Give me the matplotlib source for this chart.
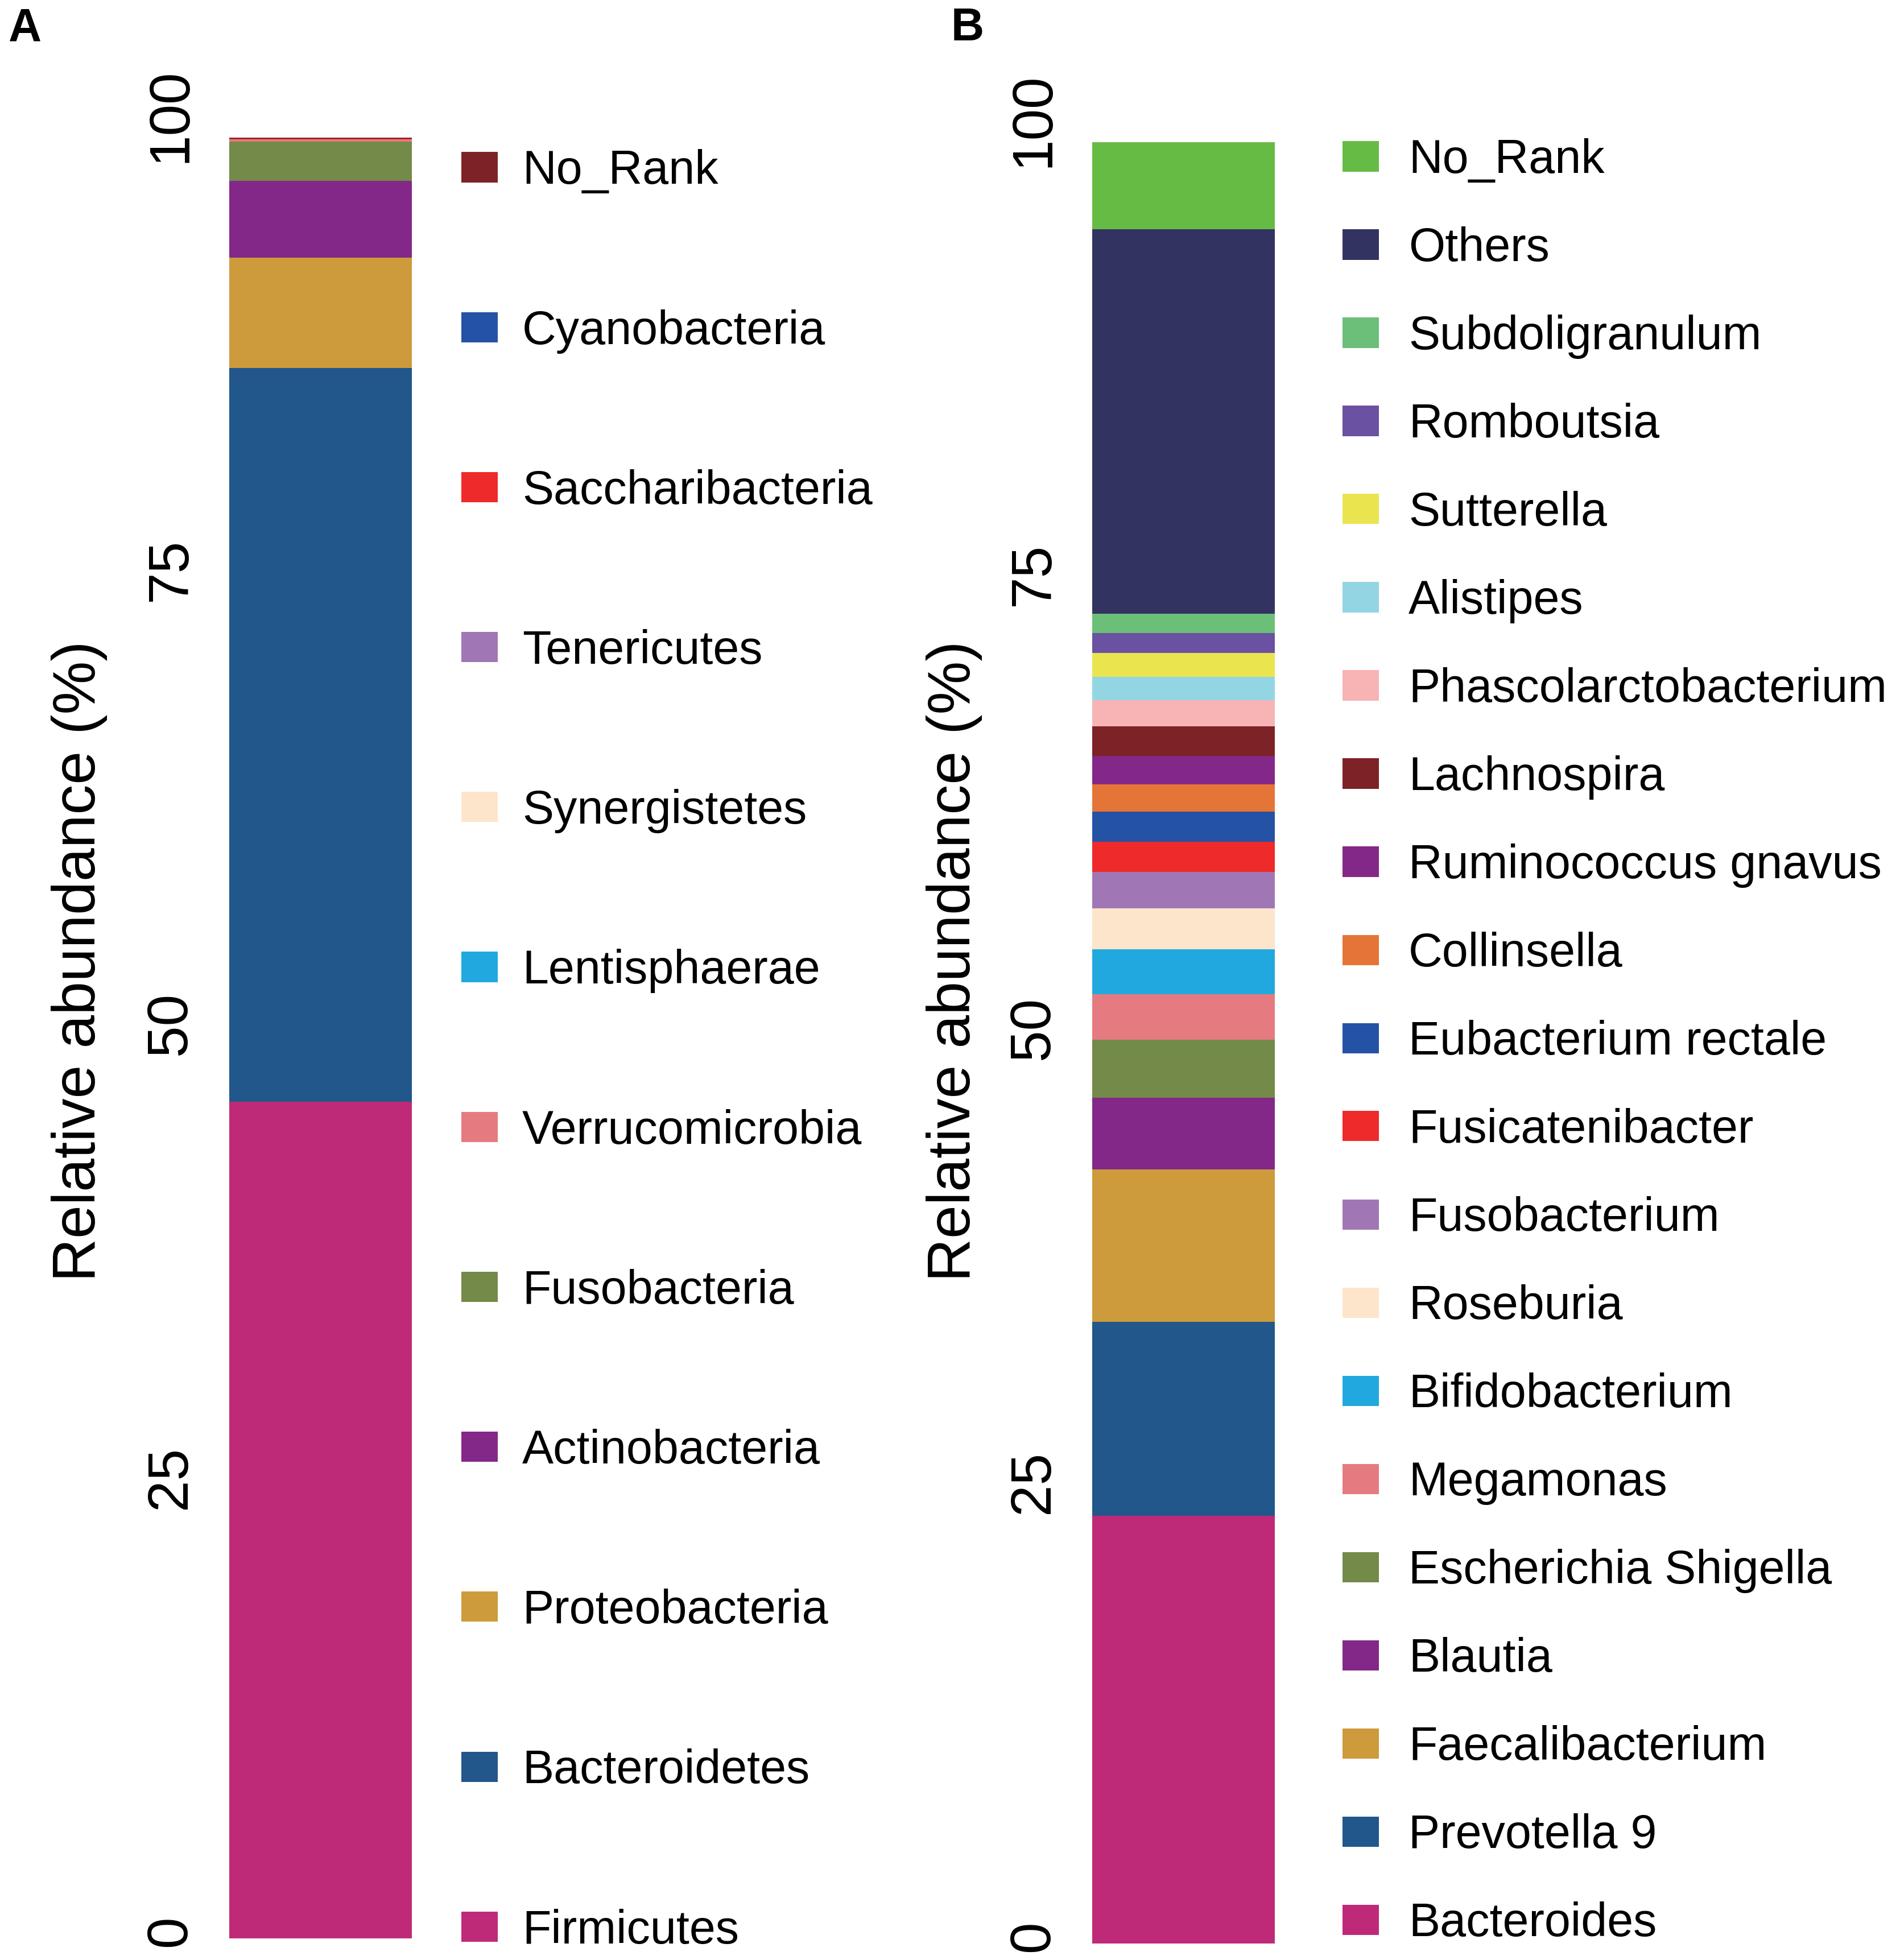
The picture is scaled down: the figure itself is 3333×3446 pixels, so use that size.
import matplotlib
matplotlib.use('Agg')
import matplotlib.pyplot as plt
from matplotlib.patches import Rectangle

plt.rcParams['font.family'] = ['Liberation Sans', 'DejaVu Sans']

###
# data (stacked bottom -> top)

phyla = ['Firmicutes', 'Bacteroidetes', 'Proteobacteria', 'Actinobacteria', 'Fusobacteria',
         'Verrucomicrobia', 'Lentisphaerae', 'Synergistetes', 'Tenericutes', 'Saccharibacteria',
         'Cyanobacteria', 'No_Rank']
phyla_pct = [46.45, 40.75, 6.13, 4.26, 2.18, 0.12, 0.01, 0.01, 0.01, 0.01, 0.01, 0.06]
phyla_colors = ['#BF2A78', '#21578A', '#CD9A3C', '#832888', '#738A48', '#E57B80',
                '#21A9DF', '#FDE5CB', '#A176B5', '#EE2A2A', '#2452A5', '#7D2226']

genera = ['Bacteroides', 'Prevotella 9', 'Faecalibacterium', 'Blautia', 'Escherichia Shigella',
          'Megamonas', 'Bifidobacterium', 'Roseburia', 'Fusobacterium', 'Fusicatenibacter',
          'Eubacterium rectale', 'Collinsella', 'Ruminococcus gnavus', 'Lachnospira',
          'Phascolarctobacterium', 'Alistipes', 'Sutterella', 'Romboutsia', 'Subdoligranulum',
          'Others', 'No_Rank']
genera_pct = [23.75, 10.77, 8.46, 3.98, 3.22, 2.51, 2.51, 2.28, 2.02, 1.67,
              1.67, 1.52, 1.57, 1.65, 1.44, 1.31, 1.31, 1.10, 1.07, 21.37, 4.82]
genera_colors = ['#BF2A78', '#21578A', '#CD9A3C', '#832888', '#738A48', '#E57B80',
                 '#21A9DF', '#FDE5CB', '#A176B5', '#EE2A2A', '#2452A5', '#E57437',
                 '#832888', '#7D2226', '#F8B3B5', '#94D5E3', '#EAE54F', '#6A51A1',
                 '#6BBF78', '#333362', '#66BB45']

yticks = [0, 25, 50, 75, 100]
ylabel = 'Relative abundance (%)'

###
# figure, sizes in pixels

W, H = 3333, 3446
fig = plt.figure(figsize=(W / 100, H / 100), dpi=100)


def fx(px):
    return px / W


def fy(py):
    return 1 - py / H


def draw_panel(box, names, values, colors, leg_x, text_x, leg_top, leg_step, title_x, letter, letter_x):
    left, top, right, bottom = box
    ax = fig.add_axes([fx(left), fy(bottom), (right - left) / W, (bottom - top) / H])
    cum = 0
    for v, c in zip(values, colors):
        ax.bar(0, v, bottom=cum, width=1, color=c, linewidth=0)
        cum += v
    ax.set_xlim(-0.5, 0.5)
    ax.set_ylim(0, 100)
    ax.axis('off')

    # tick labels sit slightly above the bar scale in the original
    lab_bottom, lab_top = bottom - 13, top - 39
    lab = fig.add_axes([fx(left), fy(lab_bottom), (right - left) / W, (lab_bottom - lab_top) / H])
    lab.set_ylim(0, 100)
    lab.set_xticks([])
    lab.set_yticks(yticks)
    lab.patch.set_visible(False)
    for s in lab.spines.values():
        s.set_visible(False)
    lab.tick_params(axis='y', length=0, pad=40, labelsize=72, labelrotation=90)
    for t in lab.get_yticklabels():
        t.set_va('center')

    # legend, top entry = last stacked
    sw, sh = 64, 53
    cap = 0.716 * 82
    for i, (n, c) in enumerate(zip(names[::-1], colors[::-1])):
        cy = leg_top + i * leg_step
        fig.patches.append(Rectangle((fx(leg_x), fy(cy + sh / 2)), sw / W, sh / H,
                                     transform=fig.transFigure, color=c, linewidth=0))
        fig.text(fx(text_x), fy(cy + cap / 2), n, fontsize=59.5, va='baseline')

    fig.text(fx(title_x), fy(1690), ylabel, rotation=90, ha='center', va='center', fontsize=76)
    fig.text(fx(letter_x), fy(71), letter, fontsize=58, fontweight='bold', va='baseline')
    return ax


draw_panel((403, 242, 724, 3408), phyla, phyla_pct, phyla_colors,
           811, 918, 294, 281.2, 140, 'A', 15)
draw_panel((1920, 250, 2241, 3417), genera, genera_pct, genera_colors,
           2360, 2476, 275, 155.0, 1677, 'B', 1672)

plt.savefig('out.png', dpi=100)
plt.close(fig)
